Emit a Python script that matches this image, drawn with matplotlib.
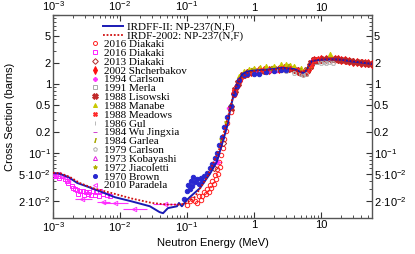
import numpy as np
import matplotlib
matplotlib.use('Agg')
import matplotlib.pyplot as plt
from matplotlib.ticker import FixedLocator, NullFormatter, LogLocator

plt.rcParams['font.family'] = ['Liberation Sans', 'DejaVu Sans']
plt.rcParams['mathtext.default'] = 'regular'

# evaluated curves (energy in MeV, cross section in barns)
irdff_E = [1e-3, 1.2e-3, 1.7e-3, 2.3e-3, 3.2e-3, 5e-3, 8.4e-3, 1.5e-2, 2.8e-2, 3.9e-2, 4.4e-2,
           5.2e-2, 7.1e-2, 7.6e-2, 8.4e-2, 0.1, 0.11, 0.156, 0.22, 0.28, 0.33, 0.37, 0.41, 0.44,
           0.49, 0.56, 0.67, 0.79, 1.0, 1.6, 2.7, 4.0, 4.8, 5.4, 6.0, 6.4, 7.3, 9.6, 15, 20, 30, 40, 58]
irdff_xs = [0.051, 0.051, 0.045, 0.037, 0.033, 0.028, 0.023, 0.020, 0.017, 0.014, 0.0135,
            0.016, 0.017, 0.019, 0.017, 0.021, 0.023, 0.031, 0.050, 0.075, 0.13, 0.19, 0.27, 0.42,
            0.65, 1.0, 1.40, 1.52, 1.57, 1.62, 1.72, 1.65, 1.52, 1.45, 1.55, 1.75, 2.15, 2.25, 2.28,
            2.25, 2.12, 2.05, 1.96]
irdf_E = [1e-3, 1.3e-3, 1.8e-3, 2.5e-3, 4e-3, 8e-3, 1.5e-2, 3e-2, 5e-2, 8e-2, 0.1, 0.13, 0.2,
          0.3, 0.4, 0.5, 0.6, 0.8, 1, 2, 3, 5, 6, 7, 8, 10, 14, 20, 40, 58]
irdf_xs = [0.052, 0.051, 0.045, 0.037, 0.031, 0.026, 0.022, 0.019, 0.018, 0.018, 0.019, 0.023,
           0.045, 0.11, 0.30, 0.75, 1.15, 1.45, 1.55, 1.62, 1.70, 1.50, 1.55, 2.05, 2.25, 2.28,
           2.28, 2.25, 2.08, 1.97]

# experimental data
diak16a_E = [0.10, 0.12, 0.13, 0.15, 0.16, 0.18, 0.2, 0.22, 0.24, 0.26, 0.28, 0.3, 0.32, 0.34,
             0.36, 0.38, 0.4, 0.45, 0.5, 0.6, 0.8, 1.0, 1.5, 2, 3, 4, 5, 6, 7, 8, 9, 10,
             0.11, 0.14, 0.17, 0.19, 0.21, 0.23, 0.25, 0.27, 0.29, 0.31]
diak16a_xs = [0.018, 0.022, 0.020, 0.024, 0.021, 0.027, 0.030, 0.034, 0.040, 0.048, 0.058, 0.075,
              0.095, 0.12, 0.16, 0.21, 0.27, 0.40, 0.70, 1.15, 1.45, 1.50, 1.58, 1.62, 1.68, 1.60,
              1.50, 1.52, 1.85, 2.20, 2.25, 2.28,
              0.020, 0.019, 0.024, 0.026, 0.027, 0.031, 0.036, 0.042, 0.050, 0.062]
diak16b_E = [1.0e-3, 1.1e-3, 1.2e-3, 1.35e-3, 1.5e-3, 1.7e-3, 1.9e-3, 2.1e-3, 2.3e-3, 2.5e-3,
             2.8e-3, 3.1e-3, 3.5e-3, 3.9e-3, 4.4e-3, 5e-3, 5.6e-3, 6.3e-3, 7e-3,
             1.05e-3, 1.25e-3, 1.6e-3, 2.0e-3, 2.4e-3, 2.9e-3, 3.3e-3, 3.7e-3, 4.2e-3, 4.8e-3]
diak16b_xs = [0.050, 0.048, 0.047, 0.046, 0.042, 0.037, 0.033, 0.030, 0.029, 0.028, 0.028, 0.027,
              0.027, 0.028, 0.027, 0.028, 0.026, 0.025, 0.024,
              0.046, 0.044, 0.040, 0.031, 0.026, 0.025, 0.026, 0.025, 0.025, 0.024]
diak13_E = [0.25, 0.35, 0.5, 0.7, 1.2, 2.5, 4.5]
diak13_xs = [0.060, 0.14, 0.72, 1.38, 1.52, 1.66, 1.55]
shch_E = [0.5, 0.55, 0.6, 0.65, 0.7, 0.8, 0.9, 1.0, 1.2, 1.4, 1.7, 2.0, 2.4, 2.8, 3.3, 4, 4.5, 5,
          5.5, 6, 6.5, 7, 7.5, 8, 9, 10, 12, 14, 16, 18, 20, 23, 26, 30, 35, 40, 45, 50, 58]
shch_xs = [0.74, 0.95, 1.12, 1.28, 1.38, 1.47, 1.52, 1.55, 1.58, 1.60, 1.62, 1.64, 1.68, 1.72,
           1.70, 1.64, 1.55, 1.50, 1.46, 1.50, 1.62, 1.95, 2.15, 2.22, 2.25, 2.28, 2.30, 2.28,
           2.30, 2.27, 2.24, 2.20, 2.16, 2.12, 2.08, 2.05, 2.02, 2.00, 1.96]
carl94_E = [0.28, 0.42, 7.5]
carl94_xs = [0.074, 0.45, 2.2]
carl94_Elo = [0.24, 0.39, 7.2]
carl94_Ehi = [0.33, 0.46, 7.8]
merla_E = [1.5, 2.5, 4.5, 5.0, 8.5, 10, 14.5]
merla_xs = [1.55, 1.65, 1.50, 1.45, 2.10, 2.20, 2.25]
lis_E = [0.45, 0.52, 0.58, 0.68, 0.75, 0.85, 1.1, 1.3, 1.6, 1.9, 2.2, 2.6, 3.0, 3.6, 4.2, 4.8,
         5.3, 5.8, 6.3, 6.8, 7.2, 7.8, 8.5, 9.5, 11, 13, 15, 17, 19, 22, 25, 28, 32, 38, 43, 48, 55]
lis_xs = [0.45, 0.82, 1.05, 1.35, 1.42, 1.50, 1.55, 1.57, 1.60, 1.63, 1.66, 1.70, 1.72, 1.67,
          1.60, 1.52, 1.47, 1.47, 1.58, 1.80, 2.05, 2.20, 2.24, 2.26, 2.30, 2.32, 2.29, 2.28,
          2.25, 2.22, 2.18, 2.14, 2.10, 2.07, 2.03, 2.01, 1.97]
manabe_E = [0.6, 0.7, 0.85, 1.0, 1.25, 1.5, 2.0, 2.5, 3.0, 3.5, 4.0, 5.0, 6.0, 6.8, 13.7]
manabe_xs = [1.30, 1.55, 1.65, 1.70, 1.75, 1.80, 1.85, 1.95, 1.98, 1.90, 1.80, 1.70, 1.65, 1.90, 2.7]
meadows_E = [0.5, 0.62, 0.75, 0.95, 1.3, 1.8, 2.6, 3.4, 4.4, 5.2, 6.2, 7.0, 8.0, 9.0]
meadows_xs = [0.80, 1.20, 1.45, 1.52, 1.58, 1.62, 1.70, 1.71, 1.58, 1.48, 1.55, 1.90, 2.22, 2.27]
gul_E = [1.2, 2.2, 3.8, 5.6, 9.0]
gul_xs = [1.52, 1.62, 1.60, 1.42, 2.15]
wu_E = [13.5, 14.8]
wu_xs = [2.30, 2.28]
garlea_E = [0.9, 1.8, 3.2, 4.8]
garlea_xs = [1.58, 1.70, 1.80, 1.62]
carl79_E = [3.0, 4.0, 5.0, 5.5, 6.0, 10, 11, 12, 13, 15]
carl79_xs = [1.55, 1.45, 1.38, 1.35, 1.40, 2.05, 2.10, 2.00, 2.10, 2.05]
koba_E = [1.1, 1.6, 2.1]
koba_xs = [1.50, 1.58, 1.62]
jiac_E = [0.32, 0.38, 0.45, 0.55, 0.65]
jiac_xs = [0.16, 0.28, 0.50, 0.95, 1.30]
brown_E = [0.09, 0.1, 0.105, 0.11, 0.115, 0.12, 0.125, 0.13, 0.14, 0.15, 0.16, 0.17, 0.18, 0.2,
           0.22, 0.24, 0.26, 0.28, 0.3, 0.33, 0.36, 0.4, 0.45, 0.5, 0.55, 0.6, 0.7, 0.8, 1.0,
           1.2, 1.5, 2.0, 2.5, 3.0]
brown_xs = [0.022, 0.028, 0.035, 0.030, 0.040, 0.033, 0.045, 0.038, 0.042, 0.036, 0.044, 0.040,
            0.047, 0.052, 0.060, 0.070, 0.085, 0.10, 0.13, 0.17, 0.24, 0.33, 0.48, 0.72, 0.95,
            1.15, 1.35, 1.40, 1.38, 1.42, 1.50, 1.55, 1.60, 1.62]
para_E = [1.05e-3, 1.2e-3, 1.4e-3, 1.7e-3, 2.7e-3, 5.5e-3, 8.5e-3, 1.6e-2, 4.7e-2]
para_xs = [0.048, 0.050, 0.045, 0.040, 0.022, 0.0195, 0.019, 0.0155, 0.0185]
para_Elo = [1.05e-3, 1.2e-3, 1.4e-3, 1.7e-3, 2.1e-3, 4.5e-3, 5.6e-3, 1.1e-2, 3.1e-2]
para_Ehi = [1.05e-3, 1.2e-3, 1.4e-3, 1.7e-3, 3.8e-3, 7.1e-3, 1.3e-2, 2.5e-2, 7.1e-2]

fig = plt.figure(figsize=(4.15, 2.54), dpi=100)
ax = fig.add_axes([53/415, 36/254, 319/415, 203/254])

ms = 3.2
mew = 0.7
# (label, E, xs, marker, color, filled, size)
series = [
    ('2016 Diakaki', diak16a_E, diak16a_xs, 'o', '#ff2020', False, ms),
    ('2016 Diakaki', diak16b_E, diak16b_xs, 's', '#ff20ff', False, ms),
    ('2013 Diakaki', diak13_E, diak13_xs, 'D', '#b02828', False, ms),
    ('2002 Shcherbakov', shch_E, shch_xs, 'd', '#ff1010', True, 4.5),
    ('1994 Carlson', carl94_E, carl94_xs, 'P', '#ff30ff', True, ms),
    ('1991 Merla', merla_E, merla_xs, 's', '#a8a8a8', False, ms),
    ('1988 Lisowski', lis_E, lis_xs, 'X', '#c02828', True, 4.5),
    ('1988 Manabe', manabe_E, manabe_xs, '^', '#c8c800', True, ms),
    ('1988 Meadows', meadows_E, meadows_xs, 'X', '#ff2828', True, ms),
    ('1986 Gul', gul_E, gul_xs, '|', '#b8b8b8', False, ms),
    ('1984 Wu Jingxia', wu_E, wu_xs, '_', '#d040d0', False, ms),
    ('1984 Garlea', garlea_E, garlea_xs, '$/$', '#a8a800', True, ms),
    ('1979 Carlson', carl79_E, carl79_xs, 'p', '#b0b0b0', False, ms),
    ('1973 Kobayashi', koba_E, koba_xs, '^', '#e020e0', False, ms),
    ('1972 Jiacoletti', jiac_E, jiac_xs, '*', '#b0b000', True, ms),
    ('1970 Brown', brown_E, brown_xs, 'o', '#2828d0', True, ms),
    ('2010 Paradela', para_E, para_xs, '<', '#ff30ff', False, ms),
]

# horizontal error bars
ax.errorbar(carl94_E, carl94_xs,
            xerr=[np.array(carl94_E) - np.array(carl94_Elo), np.array(carl94_Ehi) - np.array(carl94_E)],
            fmt='none', ecolor='#ff30ff', elinewidth=0.8, capsize=0, zorder=2)
ax.errorbar(para_E, para_xs,
            xerr=[np.array(para_E) - np.array(para_Elo), np.array(para_Ehi) - np.array(para_E)],
            fmt='none', ecolor='#ff30ff', elinewidth=0.8, capsize=0, zorder=2)

handles = []
for lab, E, xs, mk, col, filled, size in series:
    h, = ax.plot(E, xs, linestyle='none', marker=mk, ms=size, mew=mew,
                 mec=col, mfc=col if filled else 'none', label=lab, zorder=3)
    handles.append(h)

l1, = ax.plot(irdff_E, irdff_xs, color='#1a1ab4', lw=1.4, zorder=5,
              label='IRDFF-II: NP-237(N,F)')
l2, = ax.plot(irdf_E, irdf_xs, color='#d01010', lw=1.3, ls=(0, (1, 1)), zorder=6,
              label='IRDF-2002: NP-237(N,F)')

ax.set_xscale('log')
ax.set_yscale('log')
ax.set_xlim(1e-3, 58)
ax.set_ylim(0.0115, 10)

xt = [1e-3, 1e-2, 1e-1, 1, 10]
xt_labels = ['10$^{-3}$', '10$^{-2}$', '10$^{-1}$', '1', '10']
yt = [0.02, 0.05, 0.1, 0.2, 0.5, 1, 2, 5, 10]
yt_labels = ['2·10$^{-2}$', '5·10$^{-2}$', '10$^{-1}$', '0.2', '0.5', '1', '2', '5', '']

ax.xaxis.set_major_locator(FixedLocator(xt))
ax.set_xticklabels(xt_labels)
ax.xaxis.set_minor_locator(LogLocator(base=10, subs=np.arange(2, 10)))
ax.xaxis.set_minor_formatter(NullFormatter())
ax.yaxis.set_major_locator(FixedLocator(yt))
ax.set_yticklabels(yt_labels)
ax.yaxis.set_minor_locator(LogLocator(base=10, subs=np.arange(2, 10)))
ax.yaxis.set_minor_formatter(NullFormatter())

ax.tick_params(which='both', direction='in', top=True, right=True,
               labeltop=True, labelright=True, labelsize=8, colors='#333333',
               labelcolor='black', pad=1.5)
ax.tick_params(which='major', length=4, width=0.8)
ax.tick_params(which='minor', length=2.2, width=0.6)
for s in ax.spines.values():
    s.set_color('#555555')
    s.set_linewidth(1.0)

ax.set_xlabel('Neutron Energy (MeV)', fontsize=8, labelpad=3)
ax.set_ylabel('Cross Section (barns)', fontsize=8, labelpad=2)

legfont = {'family': 'Liberation Serif', 'size': 8}
leg1 = ax.legend(handles=[l1, l2], loc='upper left', bbox_to_anchor=(0.157, 0.966),
                 frameon=False, borderpad=0, borderaxespad=0,
                 handlelength=1.8, handletextpad=0.35, labelspacing=-0.1, prop=legfont)
ax.add_artist(leg1)
ax.legend(handles=handles, loc='upper left', bbox_to_anchor=(0.119, 0.88),
          frameon=False, borderpad=0, borderaxespad=0,
          handlelength=0.75, handletextpad=0.45, labelspacing=-0.085, markerscale=0.9,
          prop=legfont)

fig.savefig('out.png', dpi=100)
